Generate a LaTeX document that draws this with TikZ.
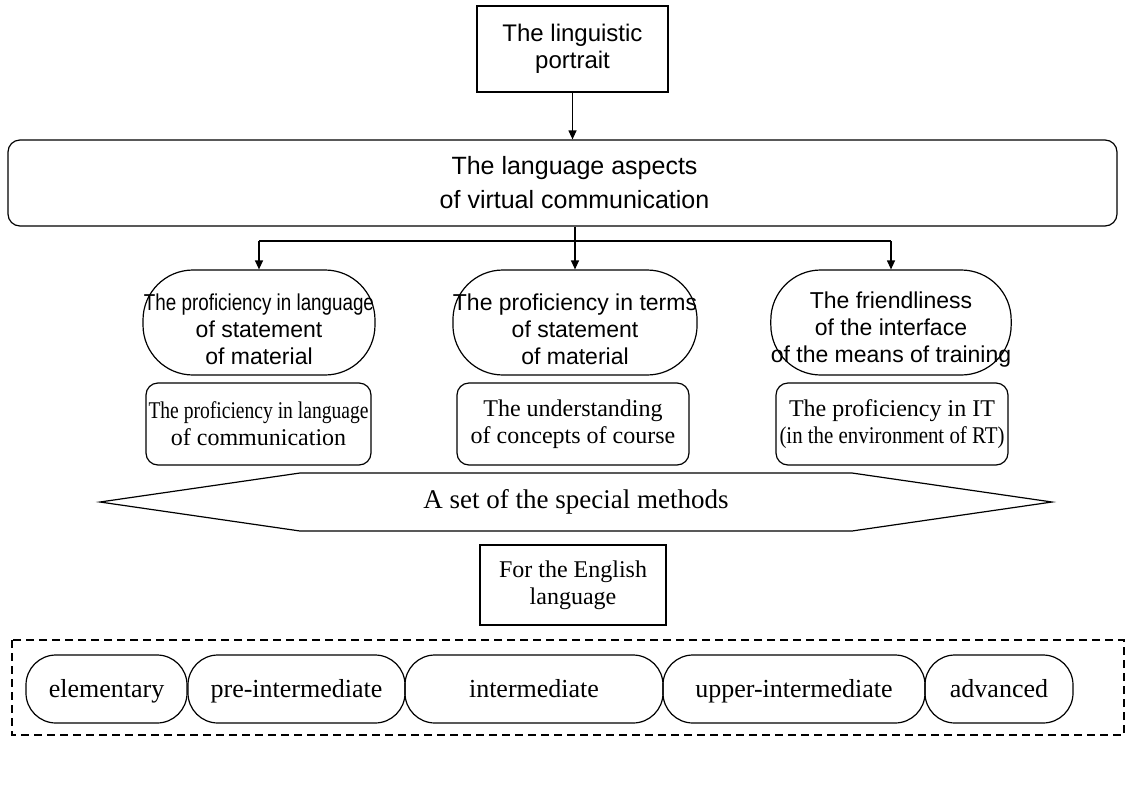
\documentclass[tikz,border=0pt]{standalone}
\usepackage{fontspec}
\setmainfont{Liberation Serif}
\setsansfont{Liberation Sans}
\usepackage{graphicx}
\usetikzlibrary{arrows.meta}
% squeeze a line horizontally to a given width, keeping its height
\newcommand{\squeeze}[2]{\resizebox{#1}{\height}{#2}}
% taller first line, so a three-line block sits a little lower
\newcommand{\lowstrut}{\rule{0pt}{31pt}}
\begin{document}
\begin{tikzpicture}[x=1pt,y=-1pt,
  line width=1.2pt,
  sanstext/.style={font=\sffamily\fontsize{23}{27}\selectfont},
  seriftext/.style={font=\rmfamily\fontsize{24}{27}\selectfont},
  plainbox/.style={draw, font=\sffamily\fontsize{24}{27}\selectfont, align=center, inner sep=0pt},
  framebox/.style={draw, seriftext, align=center, inner sep=0pt},
  softbox/.style={draw, rounded corners=12pt, align=center, inner sep=0pt},
  pill/.style={draw, rounded corners=50pt, sanstext, align=center, inner sep=0pt},
  levelpill/.style={draw, rounded corners=30pt, font=\rmfamily\fontsize{26}{28}\selectfont,
    align=center, inner sep=0pt, minimum height=68pt, text height=20pt, text depth=3pt},
  arr/.style={-{Triangle[length=9pt,width=8pt]}},
  fence/.style={dashed, dash pattern=on 8pt off 5pt, line width=1.8pt}]

\useasboundingbox (0,0) rectangle (1127,785);

% top of the hierarchy
\node[plainbox, minimum width=191pt, minimum height=86pt] (portrait) at (572.5,49)
  {The linguistic\\portrait};
\node[softbox, font=\sffamily\fontsize{25}{34}\selectfont, minimum width=1109pt,
  minimum height=86pt] (aspects) at (562.5,183)
  {\hspace*{24pt}The language aspects\\\hspace*{24pt}of virtual communication};
\draw[arr] (portrait.south) -- (portrait.south |- aspects.north);

% three proficiency areas
\node[pill, minimum width=232pt, minimum height=105pt] (langpill) at (259,322.5)
  {\lowstrut\squeeze{230pt}{The proficiency in language}\\of statement\\of material};
\node[pill, minimum width=232pt, minimum height=105pt] (termpill) at (575,322.5)
  {\lowstrut The proficiency in terms\\of statement\\of material};
\node[pill, minimum width=232pt, minimum height=105pt] (facepill) at (891,322.5)
  {\lowstrut The friendliness\\of the interface\\of the means of training};

\coordinate (fork) at (575,241);
\draw[arr] (termpill.north |- aspects.south) -- (termpill.north);
\draw (langpill.north |- fork) -- (facepill.north |- fork);
\draw[arr] (langpill.north |- fork) -- (langpill.north);
\draw[arr] (facepill.north |- fork) -- (facepill.north);

% skills behind each area
\node[softbox, seriftext, minimum width=225pt, minimum height=82pt] (commbox) at (258.5,424)
  {\squeeze{220pt}{The proficiency in language}\\of communication};
\node[softbox, seriftext, minimum width=232pt, minimum height=82pt] (concbox) at (573,424)
  {The understanding\\of concepts of course};
\node[softbox, seriftext, minimum width=232pt, minimum height=82pt] (itbox) at (892,424)
  {The proficiency in IT\\\squeeze{225pt}{(in the environment of RT)}};

% set of methods
\coordinate (hexW) at (100,502);
\coordinate (hexE) at (1052,502);
\draw (hexW) -- (300,473) -- (852,473) -- (hexE) -- (852,531) -- (300,531) -- cycle;
\node[font=\rmfamily\fontsize{27}{30}\selectfont, inner sep=0pt] (methods) at (576,502)
  {A set of the special methods};

\node[framebox, minimum width=186pt, minimum height=80pt] (english) at (573,585)
  {For the English\\language};

% levels
\draw[fence] (12,640) rectangle (1124,735);
\node[levelpill, minimum width=161pt] (elem) at (106.5,689) {elementary};
\node[levelpill, minimum width=217pt] (preint) at (296.5,689) {pre-intermediate};
\node[levelpill, minimum width=258pt] (inter) at (534,689) {intermediate};
\node[levelpill, minimum width=262pt] (upper) at (794,689) {upper-intermediate};
\node[levelpill, minimum width=148pt] (adv) at (999,689) {advanced};
\end{tikzpicture}
\end{document}
